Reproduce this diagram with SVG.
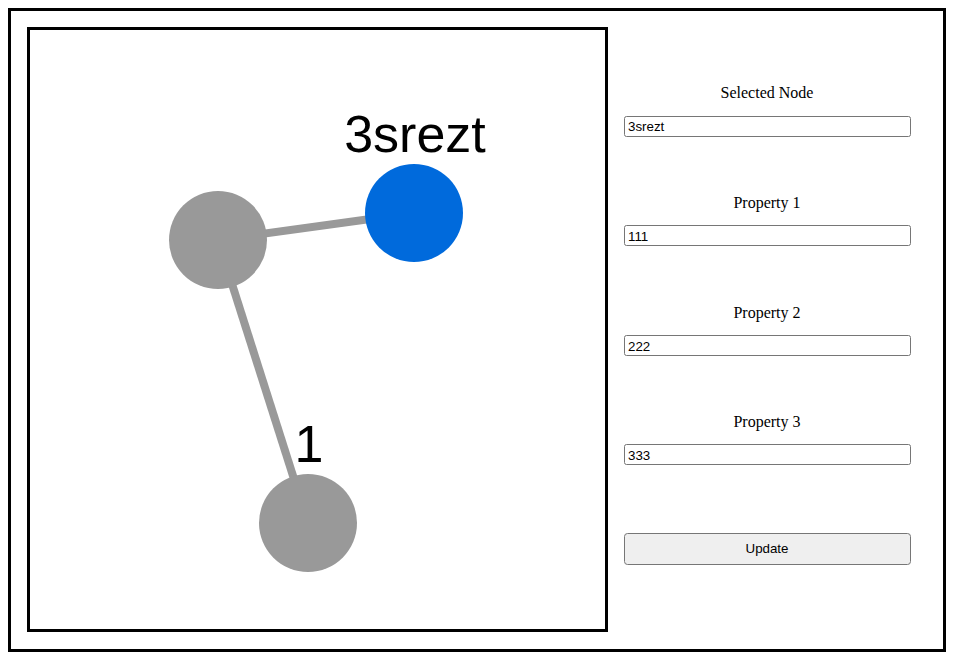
<svg xmlns="http://www.w3.org/2000/svg" width="961" height="661" viewBox="0 0 961 661">
<style>
.frame{fill:none;stroke:#000;stroke-width:3}
.link{stroke:#999;stroke-width:8;fill:none}
.node{fill:#999}
.sel{fill:#006ADC}
.nlabel{font-family:"Liberation Sans",Arial,sans-serif;font-size:52px;fill:#000;text-anchor:middle}
.flabel{font-family:"Liberation Serif","Times New Roman",serif;font-size:16px;fill:#000;text-anchor:middle}
.input{fill:#fff;stroke:#767676;stroke-width:1}
.itext{font-family:"Liberation Sans",Arial,sans-serif;font-size:13.33px;fill:#000}
.btn{fill:#efefef;stroke:#767676;stroke-width:1}
.btext{font-family:"Liberation Sans",Arial,sans-serif;font-size:13.33px;fill:#000;text-anchor:middle}
</style>
<rect width="961" height="661" fill="#fff"/>
<rect class="frame" x="9.5" y="9.5" width="935" height="641"/>
<rect class="frame" x="28.5" y="28.5" width="578" height="602"/>
<g id="connectors">
<line class="link" x1="218" y1="240" x2="414" y2="213"/>
<line class="link" x1="218" y1="240" x2="308" y2="523"/>
</g>
<g id="node-a">
<circle class="node" cx="218" cy="240" r="49"/>
</g>
<g id="node-3srezt">
<circle class="sel" cx="414" cy="213" r="49"/>
<text class="nlabel" x="415" y="152">3srezt</text>
</g>
<g id="node-1">
<circle class="node" cx="308" cy="523" r="49"/>
<text class="nlabel" x="309" y="462">1</text>
</g>
<g id="form">
<text class="flabel" x="767" y="98">Selected Node</text>
<rect class="input" x="624.5" y="116.5" width="286" height="20" rx="2"/>
<text class="itext" x="628" y="131">3srezt</text>
<text class="flabel" x="767" y="208">Property 1</text>
<rect class="input" x="624.5" y="225.5" width="286" height="20" rx="2"/>
<text class="itext" x="628" y="240.5">111</text>
<text class="flabel" x="767" y="318">Property 2</text>
<rect class="input" x="624.5" y="335.5" width="286" height="20" rx="2"/>
<text class="itext" x="628" y="350.5">222</text>
<text class="flabel" x="767" y="427">Property 3</text>
<rect class="input" x="624.5" y="444.5" width="286" height="20" rx="2"/>
<text class="itext" x="628" y="459.5">333</text>
<rect class="btn" x="624.5" y="533.5" width="286" height="31" rx="3"/>
<text class="btext" x="767" y="553">Update</text>
</g>
</svg>
